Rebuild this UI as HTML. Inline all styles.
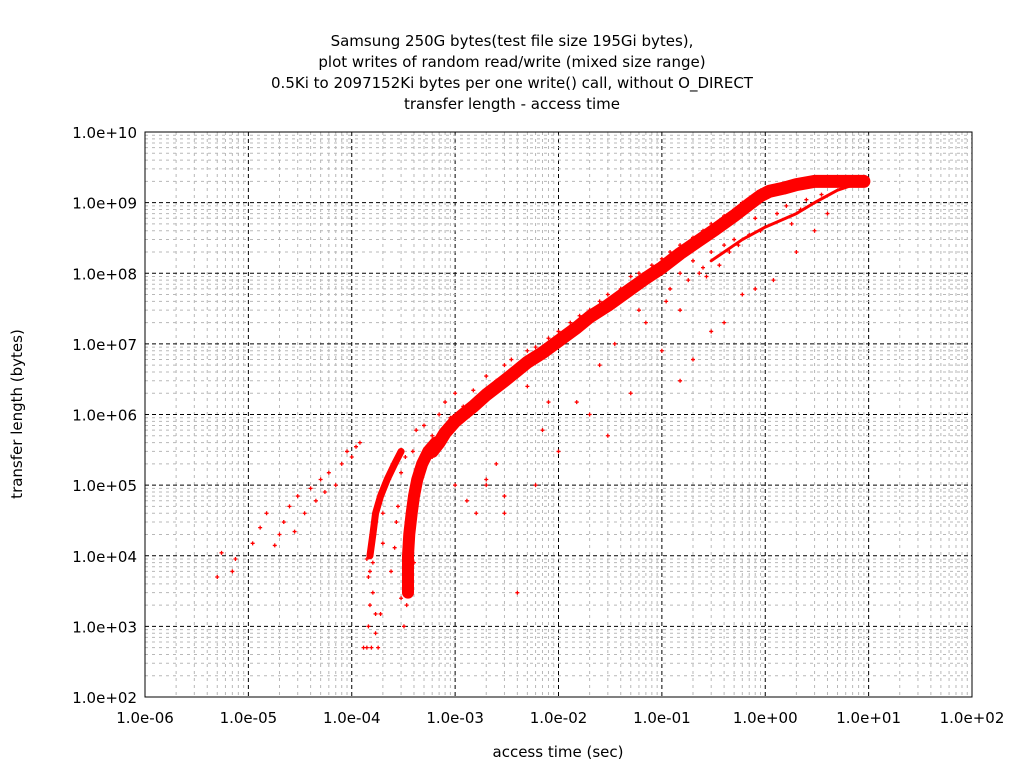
<!DOCTYPE html>
<html><head><meta charset="utf-8"><style>
body{margin:0;background:#fff;}
svg{display:block;font-family:"DejaVu Sans","Liberation Sans",sans-serif;}
</style></head><body>
<svg id="chart" width="1024" height="768" viewBox="0 0 1024 768" xmlns="http://www.w3.org/2000/svg">
<g font-size="15" text-anchor="middle" fill="#000">
<text x="512" y="46">Samsung 250G bytes(test file size 195Gi bytes),</text>
<text x="512" y="67">plot writes of random read/write (mixed size range)</text>
<text x="512" y="88">0.5Ki to 2097152Ki bytes per one write() call, without O_DIRECT</text>
<text x="512" y="109">transfer length - access time</text>
</g>
<g id="grid"></g>
<g id="marks"></g>
<rect x="145" y="132" width="827" height="565" fill="none" stroke="#000" stroke-width="1"/>
<g id="ticks" font-size="15" fill="#000"></g>
<text x="558" y="757" font-size="15" text-anchor="middle">access time (sec)</text>
<text transform="translate(22,414) rotate(-90)" font-size="15" text-anchor="middle">transfer length (bytes)</text>
</svg>
<script>
const xTickLabels=["1.0e-06","1.0e-05","1.0e-04","1.0e-03","1.0e-02","1.0e-01","1.0e+00","1.0e+01","1.0e+02"];
const yTickLabels=["1.0e+02","1.0e+03","1.0e+04","1.0e+05","1.0e+06","1.0e+07","1.0e+08","1.0e+09","1.0e+10"];
const xMinExp=-6, xMaxExp=2, yMinExp=2, yMaxExp=10;
// main dense band
const bandX=[6e-4,7e-4,8e-4,1e-3,1.2e-3,1.5e-3,2e-3,3e-3,4e-3,5e-3,7e-3,1e-2,1.5e-2,2e-2,3e-2,5e-2,7e-2,1e-1,1.5e-1,2.2e-1,3.3e-1,5e-1,7e-1,9e-1,1.1,1.5,2,3,5,9];
const bandY=[3e5,4e5,5.5e5,8e5,1e6,1.3e6,1.9e6,3e6,4.2e6,5.5e6,7.5e6,1.1e7,1.7e7,2.4e7,3.5e7,6e7,8.5e7,1.2e8,1.9e8,2.8e8,4.2e8,6.5e8,9.5e8,1.25e9,1.45e9,1.6e9,1.8e9,2e9,2e9,2e9];
// vertical column near 3.5e-4
const colX=[3.5e-4,3.5e-4,3.6e-4,3.8e-4,4e-4,4.3e-4,4.8e-4,5.5e-4,6.5e-4];
const colY=[3e3,1e4,2e4,4e4,7e4,1.2e5,2e5,3e5,4e5];
// second column near 1.6e-4
const col2X=[1.5e-4,1.6e-4,1.7e-4,1.9e-4,2.2e-4,2.6e-4,3e-4];
const col2Y=[1e4,2e4,4e4,7e4,1.2e5,2e5,3e5];
// lower return branch
const lowX=[3e-1,6e-1,1,2,3,5,9];
const lowY=[1.5e8,3e8,4.5e8,7e8,1e9,1.5e9,2e9];
// scattered points
const ptX=[5e-6,5.5e-6,7e-6,7.5e-6,1.1e-5,1.3e-5,1.5e-5,1.8e-5,2e-5,2.2e-5,2.5e-5,2.8e-5,3e-5,3.5e-5,4e-5,4.5e-5,5e-5,5.5e-5,6e-5,7e-5,8e-5,9e-5,1e-4,1.1e-4,1.2e-4,1.3e-4,1.4e-4,1.45e-4,1.5e-4,1.55e-4,1.6e-4,1.7e-4,1.8e-4,1.5e-4,1.4e-4,1.45e-4,1.6e-4,2e-4,2.4e-4,2.6e-4,2.7e-4,2.8e-4,3e-4,3.2e-4,3.4e-4,3.6e-4,3.8e-4,4e-4,3e-4,3.3e-4,3.9e-4,4.2e-4,5e-4,6e-4,7e-4,8e-4,9e-4,1e-3,1.2e-3,1.5e-3,2e-3,2.5e-3,3e-3,3.5e-3,4e-3,5e-3,6e-3,8e-3,1e-2,1.3e-2,1.6e-2,2e-2,2.5e-2,3e-2,4e-2,5e-2,6e-2,8e-2,1e-1,1.2e-1,1.5e-1,2e-1,2.5e-1,3e-1,4e-1,5e-1,6e-1,1e-3,1.3e-3,1.6e-3,2e-3,2.5e-3,3e-3,4e-3,6e-3,7e-3,1e-2,1.5e-2,2e-2,3e-2,5e-2,1e-1,1.5e-1,2e-1,3e-1,4e-1,6e-1,8e-1,1.2,2,3,4,2e-4,2.3e-4,2.5e-4,1.9e-4,1.7e-4,5e-4,6e-4,8e-3,5e-3,2e-3,3e-3,1.5e-1,2.5e-2,3.5e-2,7e-2,1.5e-1,2e-1,2.5e-1,3e-1,4e-1,5e-1,7e-1,8e-1,1.3,1.6,2.5,3.5,1.8e-1,2.7e-1,4.5e-1,9e-1,1.2e-1,6e-2,1.1e-1,2.3e-1,3.6e-1,5.5e-1,1.8,2.2];
const ptY=[5e3,1.1e4,6e3,9e3,1.5e4,2.5e4,4e4,1.4e4,2e4,3e4,5e4,2.2e4,7e4,4e4,9e4,6e4,1.2e5,8e4,1.5e5,1e5,2e5,3e5,2.5e5,3.5e5,4e5,5e2,5e2,1e3,2e3,5e2,3e3,1.5e3,5e2,6e3,9e3,5e3,8e3,1.5e4,6e3,1.3e4,3e4,5e4,2.5e3,1e3,2e3,3e3,5e3,8e3,1.5e5,2.5e5,3e5,6e5,7e5,5e5,1e6,1.5e6,9e5,2e6,1.3e6,2.2e6,3.5e6,3e6,5e6,6e6,4e6,8e6,9e6,1.2e7,1.5e7,2e7,2.5e7,3e7,4e7,5e7,6e7,9e7,1e8,1.3e8,1.6e8,2e8,2.5e8,3.2e8,4e8,5e8,6.5e8,8e8,1e9,1e5,6e4,4e4,1e5,2e5,7e4,3e3,1e5,6e5,3e5,1.5e6,1e6,5e5,2e6,8e6,3e6,6e6,1.5e7,2e7,5e7,6e7,8e7,2e8,4e8,7e8,4e4,1.2e5,2e5,1.5e3,8e2,2e5,2.5e5,1.5e6,2.5e6,1.2e5,4e4,3e7,5e6,1e7,2e7,1e8,1.5e8,1.2e8,2e8,2.5e8,3e8,3.5e8,6e8,7e8,9e8,1.1e9,1.3e9,8e7,9e7,2e8,4e8,6e7,3e7,4e7,1e8,1.3e8,2.5e8,5e8,8e8];
const X0=145,X1=972,Y0=697,Y1=132;
function xs(v){return X0+(Math.log10(v)-xMinExp)/(xMaxExp-xMinExp)*(X1-X0);}
function ys(v){return Y0-(Math.log10(v)-yMinExp)/(yMaxExp-yMinExp)*(Y0-Y1);}
const NS="http://www.w3.org/2000/svg";
const grid=document.getElementById('grid'),marks=document.getElementById('marks'),ticks=document.getElementById('ticks');
function ln(x1,y1,x2,y2,st,dash,w){const l=document.createElementNS(NS,'line');l.setAttribute('x1',x1);l.setAttribute('y1',y1);l.setAttribute('x2',x2);l.setAttribute('y2',y2);l.setAttribute('stroke',st);l.setAttribute('stroke-width',w||1);if(dash)l.setAttribute('stroke-dasharray',dash);return l;}
for(let e=xMinExp;e<=xMaxExp;e++){for(let m=1;m<10;m++){if(e===xMaxExp&&m>1)break;const x=xs(m*Math.pow(10,e));
const l=ln(x,Y1,x,Y0,m===1?'#000':'#b8b8b8',m===1?'4,3':'3,4',1);

grid.appendChild(l);}}
for(let e=yMinExp;e<=yMaxExp;e++){for(let m=1;m<10;m++){if(e===yMaxExp&&m>1)break;const y=ys(m*Math.pow(10,e));
const l=ln(X0,y,X1,y,m===1?'#000':'#b8b8b8',m===1?'4,3':'3,4',1);

grid.appendChild(l);}}
xTickLabels.forEach((t,i)=>{const x=xs(Math.pow(10,xMinExp+i));const s=document.createElementNS(NS,'text');s.setAttribute('x',x);s.setAttribute('y',723);s.setAttribute('text-anchor','middle');s.textContent=t;

ticks.appendChild(s);});
yTickLabels.forEach((t,i)=>{const y=ys(Math.pow(10,yMinExp+i));const s=document.createElementNS(NS,'text');s.setAttribute('x',137);s.setAttribute('y',y+6);s.setAttribute('text-anchor','end');s.textContent=t;

ticks.appendChild(s);});
function band(X,Y,w,name){const p=document.createElementNS(NS,'polyline');p.setAttribute('points',X.map((v,i)=>xs(v)+','+ys(Y[i])).join(' '));p.setAttribute('fill','none');p.setAttribute('stroke','#ff0000');p.setAttribute('stroke-width',w);p.setAttribute('stroke-linejoin','round');p.setAttribute('stroke-linecap','round');

marks.appendChild(p);}
band(bandX,bandY,13,'main-band');
band(colX,colY,12,'vertical-column');
band(col2X,col2Y,7,'second-column');
band(lowX,lowY,3,'lower-branch');
ptX.forEach((v,i)=>{const x=xs(v),y=ys(ptY[i]);const g=document.createElementNS(NS,'path');g.setAttribute('d',`M${x-2},${y}H${x+2}M${x},${y-2}V${y+2}`);g.setAttribute('stroke','#ff0000');g.setAttribute('stroke-width',1.3);

marks.appendChild(g);});
</script>
</body></html>
